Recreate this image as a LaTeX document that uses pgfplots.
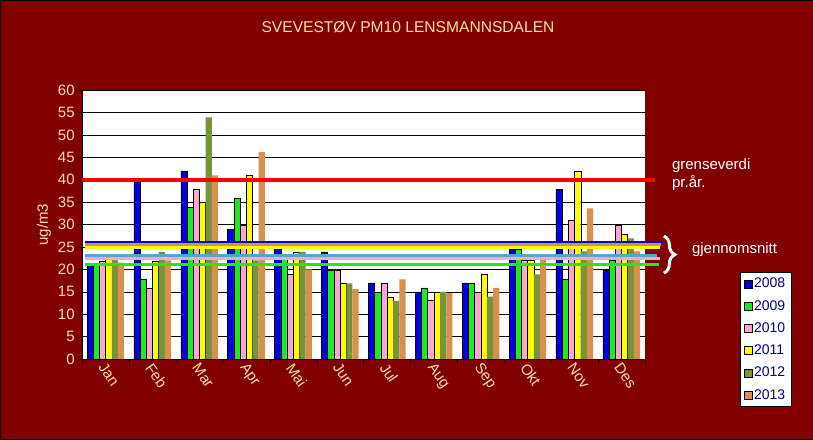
\documentclass[border=0pt]{standalone}
\usepackage{pgfplots}
\pgfplotsset{compat=1.18}
\usepackage{fontspec}
\setmainfont{Liberation Sans}
\usetikzlibrary{decorations.pathreplacing}

\definecolor{bg}{RGB}{128,0,0}
\definecolor{peach}{RGB}{255,225,160}
\definecolor{c2008}{RGB}{0,0,230}
\definecolor{c2009}{RGB}{30,235,30}
\definecolor{c2010}{RGB}{248,168,208}
\definecolor{c2011}{RGB}{255,255,0}
\definecolor{c2012}{RGB}{119,147,60}
\definecolor{c2013}{RGB}{217,144,79}
\definecolor{avgblue}{RGB}{75,172,198}
\definecolor{navytext}{RGB}{0,0,128}

\begin{document}
\begin{tikzpicture}
\fill[bg, draw=black] (-82pt,-80pt) rectangle (731pt,359pt);
\useasboundingbox (-82pt,-80pt) rectangle (731pt,359pt);
\begin{axis}[
    at={(0pt,0pt)}, anchor=south west,
    scale only axis,
    width=563pt, height=269pt,
    xmin=-0.5, xmax=11.5,
    ymin=0, ymax=60,
    ytick={0,5,...,60},
    xtick={0,...,11},
    xticklabels={Jan,Feb,Mar,Apr,Mai,Jun,Jul,Aug,Sep,Okt,Nov,Des},
    minor xtick={-0.5,0.5,...,11.5},
    major x tick style={draw=none},
    tick style={black},
    tick align=outside,
    tickwidth=4pt, subtickwidth=4pt,
    ymajorgrids=true,
    grid style={black, line width=0.6pt},
    axis x line*=bottom, axis y line*=left,
    axis line style={black, -},
    axis background/.style={fill=white},
    clip=false,
    /pgf/number format/assume math mode=true,
    ticklabel style={text=peach, font=\fontsize{15}{17}\selectfont},
    xticklabel style={rotate=-55, anchor=west, xshift=-4pt, yshift=-4pt},
    ylabel={ug/m3},
    ylabel style={text=peach, font=\fontsize{15}{17}\selectfont},
    legend style={at={(1.169,0.322)}, anchor=north west, draw=black, fill=white,
        text=navytext, font=\fontsize{14}{16}\selectfont,
        row sep=7pt, inner sep=3.5pt},
    legend cell align=left,
    legend image code/.code={\draw[#1] (0pt,-4pt) rectangle (8pt,4pt);},
]
\addplot[ybar, bar width=6.2pt, bar shift=-15.5pt, fill=c2008, draw=black] coordinates
 {(0,21) (1,39.6) (2,42) (3,29) (4,25.4) (5,23.9) (6,17) (7,15) (8,17) (9,24.4) (10,37.9) (11,19.9)};
\addplot[ybar, bar width=6.2pt, bar shift=-9.3pt, fill=c2009, draw=black] coordinates
 {(0,21) (1,17.9) (2,33.9) (3,35.9) (4,23) (5,19.9) (6,15) (7,15.9) (8,17) (9,24.4) (10,17.8) (11,22)};
\addplot[ybar, bar width=6.2pt, bar shift=-3.1pt, fill=c2010, draw=black] coordinates
 {(0,21.9) (1,15.9) (2,37.9) (3,29.9) (4,19) (5,19.9) (6,17) (7,13.1) (8,15) (9,22) (10,31) (11,29.9)};
\addplot[ybar, bar width=6.2pt, bar shift=3.1pt, fill=c2011, draw=black] coordinates
 {(0,22.2) (1,21.9) (2,35) (3,41) (4,23.9) (5,17) (6,13.9) (7,15) (8,19) (9,22) (10,41.9) (11,27.9)};
\addplot[ybar, bar width=6.2pt, bar shift=9.3pt, fill=c2012, draw=none] coordinates
 {(0,22.5) (1,23.9) (2,53.9) (3,22) (4,23.9) (5,16.9) (6,13) (7,15) (8,13.9) (9,18.9) (10,24) (11,26.9)};
\addplot[ybar, bar width=6.2pt, bar shift=15.5pt, fill=c2013, draw=none] coordinates
 {(0,21.5) (1,22) (2,41) (3,46.2) (4,20) (5,15.6) (6,17.8) (7,14.7) (8,15.9) (9,22.2) (10,33.6) (11,24)};
\legend{2008,2009,2010,2011,2012,2013}
% limit and averages
\addplot[forget plot, red, line width=4pt] coordinates {(-0.5,40) (11.71,40)};
\addplot[forget plot, c2008, line width=3pt] coordinates {(-0.45,25.9) (11.88,25.9)};
\addplot[forget plot, c2013, line width=3pt] coordinates {(-0.45,25.6) (11.85,25.6)};
\addplot[forget plot, c2011, line width=3pt] coordinates {(-0.45,25.0) (11.82,25.0)};
\addplot[forget plot, avgblue, line width=3pt] coordinates {(-0.45,23.2) (11.75,23.2)};
\addplot[forget plot, c2010, line width=3pt] coordinates {(-0.45,22.4) (11.82,22.4)};
\addplot[forget plot, c2009, line width=3pt] coordinates {(-0.45,21.2) (11.80,21.2)};
\end{axis}
\node[text=peach, font=\fontsize{15.6}{18}\selectfont] at (326pt,332pt) {SVEVESTØV PM10 LENSMANNSDALEN};
\node[text=white, font=\fontsize{15}{18}\selectfont, align=left, anchor=north west, inner sep=0pt] at (590pt,201pt) {grenseverdi\\pr.år.};
\draw[white, line width=3pt, decorate, decoration={brace, amplitude=11pt}] (582pt,123pt) -- (582pt,86pt);
\node[text=white, font=\fontsize{15}{17}\selectfont, anchor=west, inner sep=0pt] at (610pt,109pt) {gjennomsnitt};
\end{tikzpicture}
\end{document}
